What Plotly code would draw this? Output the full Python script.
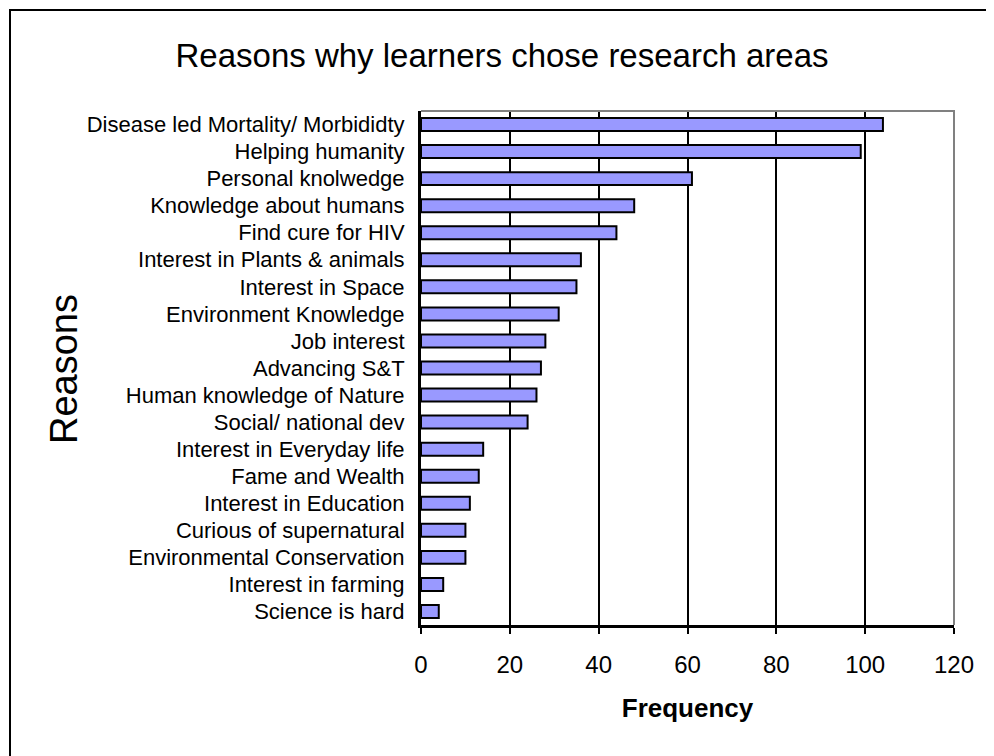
import plotly.graph_objects as go

# reasons, top to bottom as shown in the chart
reasons = [
    "Disease led Mortality/ Morbididty",
    "Helping humanity",
    "Personal knolwedge",
    "Knowledge about humans",
    "Find cure for HIV",
    "Interest in Plants & animals",
    "Interest in Space",
    "Environment Knowledge",
    "Job interest",
    "Advancing S&T",
    "Human knowledge of Nature",
    "Social/ national dev",
    "Interest in Everyday life",
    "Fame and Wealth",
    "Interest in Education",
    "Curious of supernatural",
    "Environmental Conservation",
    "Interest in farming",
    "Science is hard",
]
frequency = [104, 99, 61, 48, 44, 36, 35, 31, 28, 27, 26, 24, 14, 13, 11, 10, 10, 5, 4]
x_ticks = [0, 20, 40, 60, 80, 100, 120]

FONT = "Liberation Sans, Arial, sans-serif"

fig = go.Figure()
fig.add_trace(go.Bar(
    x=frequency,
    y=reasons,
    orientation='h',
    marker=dict(color='#9999FF', line=dict(color='black', width=2)),
    showlegend=False,
))

# page body adds an 8px offset, so margins are trimmed on the left/top
fig.update_layout(
    width=994,
    height=756,
    margin=dict(l=413, r=48, t=103, b=139, autoexpand=False),
    plot_bgcolor='white',
    paper_bgcolor='white',
    font=dict(family=FONT, color='black'),
    bargap=0.52,
    title=dict(
        text='Reasons why learners chose research areas',
        xref='container', x=(502 - 8) / 994, xanchor='center',
        yref='container', y=1 - (55 - 8) / 756, yanchor='middle',
        font=dict(size=33, family=FONT),
    ),
)

fig.update_xaxes(
    range=[0, 120],
    tickvals=x_ticks,
    ticks='outside', ticklen=6, tickwidth=2, tickcolor='black',
    tickfont=dict(size=24, family=FONT),
    ticklabelstandoff=10,
    showgrid=True, gridcolor='black', gridwidth=1.5,
    showline=True, linecolor='black', linewidth=3,
    zeroline=False,
    title=dict(text='<b>Frequency</b>', font=dict(size=26, family=FONT), standoff=23),
)
fig.update_yaxes(
    autorange='reversed',
    showline=True, linecolor='black', linewidth=3,
    ticks='', ticklabelstandoff=9,
    tickfont=dict(size=22, family=FONT),
    showgrid=False,
)

fig.add_annotation(
    text='Reasons', textangle=-90,
    xref='paper', yref='paper',
    x=(64 - 421) / 533, y=(625 - 369) / 514,
    xanchor='center', yanchor='middle', showarrow=False,
    font=dict(size=38, family=FONT),
)

# grey top and right border of the plot area
fig.add_shape(
    type='path', xref='x domain', yref='y domain',
    path='M 0 1 L 1 1 L 1 0',
    line=dict(color='#808080', width=2), layer='above',
)
# outer frame around the chart
fig.add_shape(
    type='rect', xref='paper', yref='paper',
    x0=(10 - 421) / 533, x1=1.2, y0=-0.4, y1=(625 - 10) / 514,
    line=dict(color='black', width=2), layer='above',
)

fig.write_html("out.html")
